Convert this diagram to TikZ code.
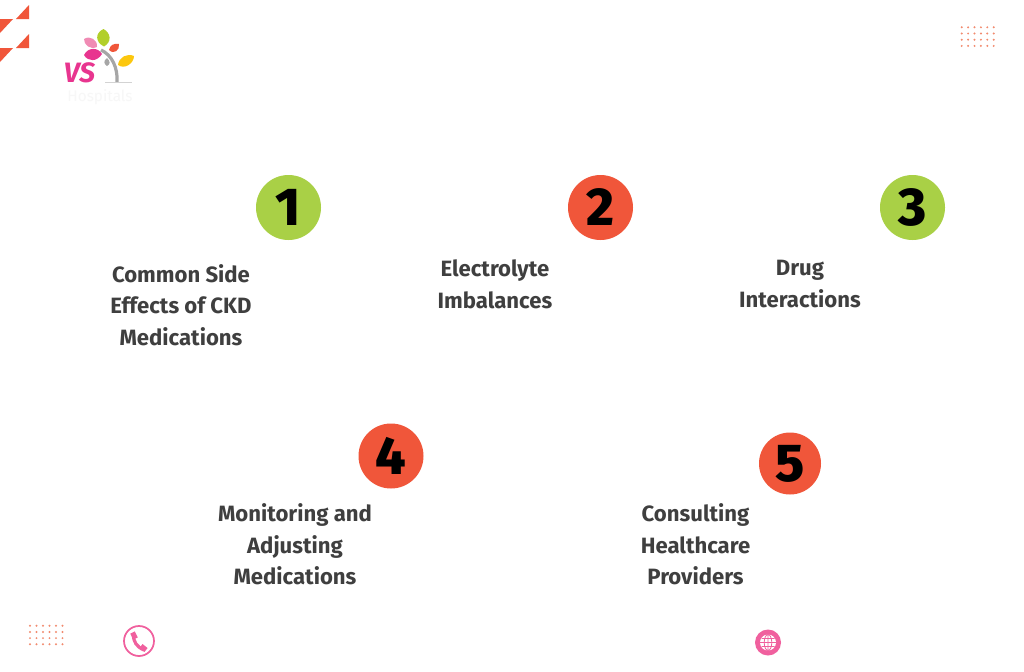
\documentclass[tikz,border=0pt]{standalone}
\usepackage{fontspec}
\setmainfont{Fira Sans}
\newfontfamily\numfont{Fira Sans ExtraBold}
\usetikzlibrary{positioning}
\definecolor{muted}{HTML}{3f3f3f}
\definecolor{numGreen}{HTML}{a9d046}
\definecolor{numRed}{HTML}{f0563a}
\definecolor{iconPink}{HTML}{f0609e}
\definecolor{logoPink}{HTML}{e8358f}
\definecolor{logoRose}{HTML}{f08bb4}
\definecolor{logoYellow}{HTML}{fcc70e}
\definecolor{logoGreen}{HTML}{b2cf2a}
\definecolor{logoGrey}{HTML}{a6a6a6}
\definecolor{dotRed}{HTML}{f28a6e}
\begin{document}
\begin{tikzpicture}[x=0.75pt,y=-0.75pt,numdisc/.style={circle, minimum size=48.75pt, inner sep=0pt, font=\numfont\fontsize{40}{40}\selectfont, text=black},caption/.style={align=center, font=\bfseries\fontsize{16.6}{23.6}\selectfont, text=muted}]
\useasboundingbox (0,0) rectangle (1024,671);
\fill[white] (0,0) rectangle (1024,671);
% corner triangles
\fill[numRed] (29,5)--(16,19)--(29,19)--cycle (0,19)--(13,19)--(0,33)--cycle (29,34)--(16,48)--(29,48)--cycle (0,48)--(13,48)--(0,62)--cycle;
% dots
\foreach \i in {0,...,5} \foreach \j in {0,...,3} {
\fill[dotRed] (961.7+6.4*\i,27.3+6.2*\j) circle[radius=1.1];
\fill[dotRed] (30+6.5*\i,625.7+6.2*\j) circle[radius=1.1];
}
% logo
\draw[logoGrey, line width=2.4pt] (101,50) .. controls (112,55) and (118,68) .. (117,82);
\draw[logoGrey!50, line width=0.6pt] (105,82)--(132,82);
\fill[logoGreen] (103.5,29) .. controls (95,33) and (95,42) .. (104,46.5) .. controls (112,42) and (111,33) .. (103.5,29)--cycle;
\fill[logoRose] (84,39) .. controls (90,35) and (98,40) .. (97,47) .. controls (90,50) and (84,45) .. (84,39)--cycle;
\fill[logoPink] (84,55) .. controls (88,47) and (98,47) .. (102,54) .. controls (97,62) and (88,62) .. (84,55)--cycle;
\fill[numRed] (109,50) .. controls (110,45) and (114,43) .. (119,44) .. controls (120,50) and (114,55) .. (109,50)--cycle;
\fill[logoYellow] (118,65) .. controls (119,57) and (127,53) .. (134,56) .. controls (134,63) and (125,70) .. (118,65)--cycle;
\fill[logoGrey] (107,58) .. controls (103,61) and (104,64) .. (107,66) .. controls (111,64) and (110,61) .. (107,58)--cycle;
\node[font=\bfseries\itshape\fontsize{21}{21}\selectfont, text=logoPink, inner sep=0pt] (logoVs) at (79.5,73) {VS};
\node[font=\fontsize{11.5}{11.5}\selectfont, text=gray!6, inner sep=0pt] (logoName) at (100,97) {Hospitals};
% numbers
\node[numdisc, fill=numGreen] (one) at (288.5,207.5) {1};
\node[numdisc, fill=numRed] (two) at (600.5,207.5) {2};
\node[numdisc, fill=numGreen] (three) at (912.5,207.5) {3};
\node[numdisc, fill=numRed] (four) at (391,456) {4};
\node[numdisc, fill=numRed, minimum size=46.5pt] (five) at (790,463.5) {5};
% captions
\node[caption] (sideFx) at (181,305) {Common Side\\Effects of CKD\\Medications};
\node[caption] (electro) at (495,284.5) {Electrolyte\\Imbalances};
\node[caption] (drug) at (800,284) {Drug\\Interactions};
\node[caption] (monitor) at (295,544.5) {Monitoring and\\Adjusting\\Medications};
\node[caption] (consult) at (695.5,544.5) {Consulting\\Healthcare\\Providers};
% phone icon
\node[circle, draw=iconPink, line width=1.3pt, minimum size=22.5pt, inner sep=0pt] (phone) at (139,641) {};
\draw[iconPink, line width=2.4pt] (133.5,634) .. controls (133,642) and (137,647) .. (144,650);
\draw[iconPink, line width=3.8pt] (132.5,632.5)--(135.5,638.5) (141,646)--(146,650);
% globe icon
\node[circle, fill=iconPink, minimum size=19.5pt, inner sep=0pt] (globe) at (768,642.5) {};
\fill[white] (globe) circle[radius=8];
\draw[iconPink, line width=0.6pt] (760,642.5)--(776,642.5) (761.5,638.5)--(774.5,638.5) (761.5,646.5)--(774.5,646.5) (768,634.5)--(768,650.5) (768,642.5) ellipse[x radius=3.8, y radius=8];
\end{tikzpicture}
\end{document}
